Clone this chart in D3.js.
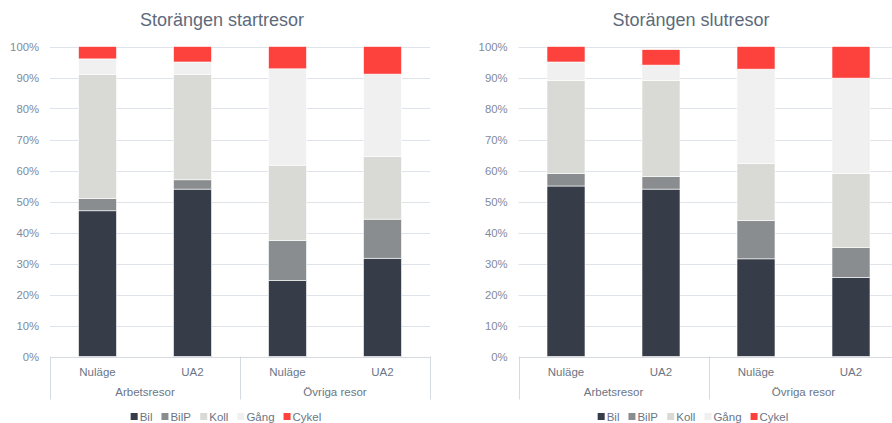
<!DOCTYPE html>
<html>
<head>
<meta charset="utf-8">
<script src="https://cdn.jsdelivr.net/npm/d3@7"></script>
<style>
  html, body { margin: 0; padding: 0; background: #fff; }
  svg { display: block; font-family: "Liberation Sans", Arial, sans-serif; }
</style>
</head>
<body>
<svg id="chart" width="892" height="423"></svg>
<script>
// ---- Data ----
const categories = ["Nuläge", "UA2", "Nuläge", "UA2"];
const groups = ["Arbetsresor", "Övriga resor"];
const seriesNames = ["Bil", "BilP", "Koll", "Gång", "Cykel"];
const seriesColors = ["#363c48", "#898d90", "#d9d9d5", "#f0f0f0", "#fd413c"];
const yTicks = [0, 10, 20, 30, 40, 50, 60, 70, 80, 90, 100];

const startTitle = "Storängen startresor";
const startBil   = [47, 54, 24.5, 31.7];
const startBilP  = [4, 3, 12.9, 12.6];
const startKoll  = [40, 34, 24.3, 20.2];
const startGang  = [5, 4, 31.1, 26.6];
const startCykel = [4, 5, 7.2, 8.9];

const slutTitle = "Storängen slutresor";
const slutBil   = [55, 54, 31.5, 25.5];
const slutBilP  = [4, 4, 12.3, 9.6];
const slutKoll  = [30, 31, 18.4, 23.9];
const slutGang  = [6, 5, 30.5, 30.8];
const slutCykel = [5, 5, 7.3, 10.2];

// ---- Drawing ----
const svg = d3.select("#chart");

function buildRows(bil, bilp, koll, gang, cykel) {
  return categories.map((c, i) => ({
    key: i, cat: c, group: groups[Math.floor(i / 2)],
    "Bil": bil[i], "BilP": bilp[i], "Koll": koll[i], "Gång": gang[i], "Cykel": cykel[i]
  }));
}

function drawChart(opt) {
  const g = svg.append("g");
  const x = d3.scaleBand().domain(d3.range(categories.length)).range([opt.x0, opt.x1]).paddingInner(0.6).paddingOuter(0.3);
  const xb = d3.scaleBand().domain(d3.range(categories.length)).range([opt.x0, opt.x1]);
  const y = d3.scaleLinear().domain([0, 100]).range([opt.yBottom, opt.yTop]);

  // title
  g.append("text").attr("x", opt.titleX).attr("y", 26)
    .attr("text-anchor", "middle").attr("font-size", "18px").attr("fill", "#5d6a7c")
    .text(opt.title);

  // gridlines
  g.append("g").selectAll("line").data(yTicks.filter(t => t > 0)).join("line")
    .attr("x1", opt.x0).attr("x2", opt.x1)
    .attr("y1", d => Math.round(y(d)) + 0.5).attr("y2", d => Math.round(y(d)) + 0.5)
    .attr("stroke", "#dfe3ea").attr("stroke-width", 1);

  // y tick labels
  g.append("g").selectAll("text").data(yTicks).join("text")
    .attr("x", opt.x0 - 11).attr("y", d => y(d) + 4)
    .attr("text-anchor", "end").attr("font-size", "11.3px").attr("fill", "#7f8a9b")
    .text(d => d + "%");

  // bars
  const rows = buildRows(...opt.values);
  const stacked = d3.stack().keys(seriesNames)(rows);
  g.append("g").selectAll("g").data(stacked).join("g")
    .attr("fill", (d, i) => seriesColors[i])
    .selectAll("rect").data(d => d).join("rect")
    .attr("x", (d, i) => x(i))
    .attr("width", x.bandwidth())
    .attr("y", d => y(d[1]))
    .attr("height", d => y(d[0]) - y(d[1]))
    .attr("stroke", "#ffffff").attr("stroke-width", 0.6);

  // x axis baseline
  g.append("line").attr("x1", opt.x0).attr("x2", opt.x1)
    .attr("y1", Math.round(opt.yBottom) + 0.5).attr("y2", Math.round(opt.yBottom) + 0.5)
    .attr("stroke", "#d5dae2");

  // group separators
  const sepX = [opt.x0, xb(2), opt.x1];
  g.append("g").selectAll("line").data(sepX).join("line")
    .attr("x1", d => Math.round(d) + 0.5).attr("x2", d => Math.round(d) + 0.5)
    .attr("y1", opt.yBottom).attr("y2", opt.yBottom + 43)
    .attr("stroke", "#d5dae2");

  // category labels
  g.append("g").selectAll("text").data(categories).join("text")
    .attr("x", (d, i) => xb(i) + xb.bandwidth() / 2).attr("y", opt.yBottom + 19)
    .attr("text-anchor", "middle").attr("font-size", "11.5px").attr("fill", "#6b7585")
    .text(d => d);

  // group labels
  g.append("g").selectAll("text").data(groups).join("text")
    .attr("x", (d, i) => xb(i * 2) + xb.bandwidth())
    .attr("y", opt.yBottom + 39)
    .attr("text-anchor", "middle").attr("font-size", "11.5px").attr("fill", "#6b7585")
    .text(d => d);

  // legend
  const lg = g.append("g");
  const items = lg.selectAll("g").data(seriesNames).join("g");
  items.append("rect").attr("width", 7).attr("height", 7).attr("y", -7.5)
    .attr("fill", (d, i) => seriesColors[i]);
  items.append("text").attr("x", 9).attr("y", 0)
    .attr("font-size", "11.5px").attr("fill", "#6b7585").text(d => d);
  let cx = 0;
  items.each(function () {
    d3.select(this).attr("transform", `translate(${cx},0)`);
    cx += this.getBBox().width + 9;
  });
  const totalW = cx - 9;
  lg.attr("transform", `translate(${opt.legendX - totalW / 2}, ${opt.yBottom + 64})`);
}

drawChart({
  title: startTitle, titleX: 222, legendX: 226,
  x0: 50, x1: 430, yTop: 46.5, yBottom: 356.5,
  values: [startBil, startBilP, startKoll, startGang, startCykel]
});
drawChart({
  title: slutTitle, titleX: 691, legendX: 693,
  x0: 518.5, x1: 898.5, yTop: 46.5, yBottom: 356.5,
  values: [slutBil, slutBilP, slutKoll, slutGang, slutCykel]
});
</script>
</body>
</html>
